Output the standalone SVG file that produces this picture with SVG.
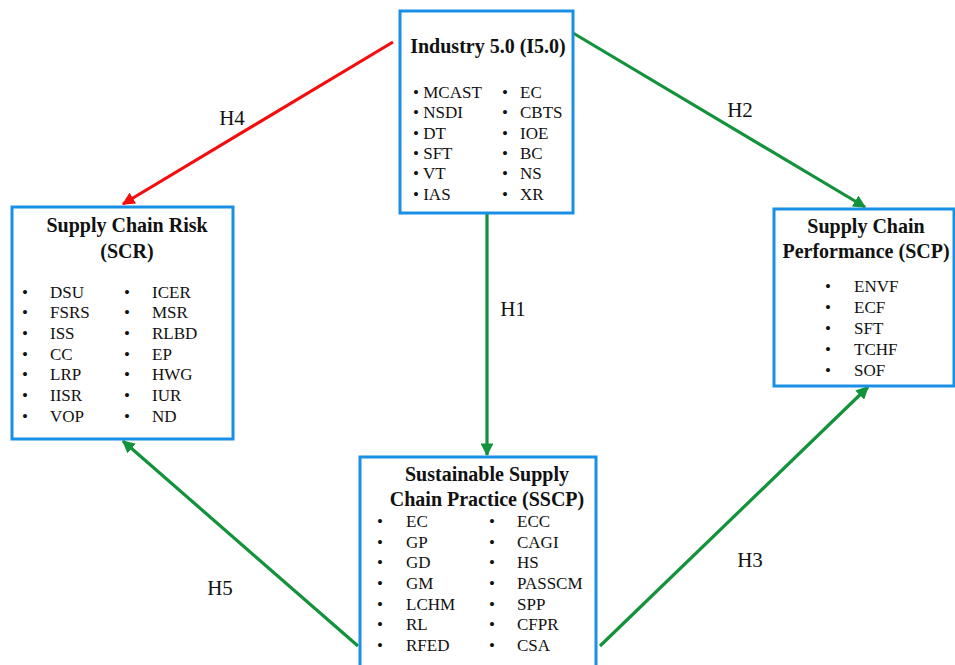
<svg xmlns="http://www.w3.org/2000/svg" width="955" height="665" viewBox="0 0 955 665">
<defs>
<style>
.box{fill:#fff;stroke:#1a8fe6;stroke-width:3}
.t{font-family:"Liberation Serif","Times New Roman",serif;font-weight:bold;font-size:20px;fill:#111;text-anchor:middle}
.i{font-family:"Liberation Serif","Times New Roman",serif;font-size:17px;fill:#111}
.h{font-family:"Liberation Serif","Times New Roman",serif;font-size:21px;fill:#111;text-anchor:middle}
.g{stroke:#12923a;stroke-width:3.2;fill:none;marker-end:url(#ag)}
.r{stroke:#f50d0d;stroke-width:3.2;fill:none;marker-end:url(#ar)}
</style>
<marker id="ag" viewBox="0 0 10 10" refX="9" refY="5" markerWidth="4" markerHeight="4" orient="auto" markerUnits="strokeWidth"><path d="M0,0 L10,5 L0,10 z" fill="#12923a"/></marker>
<marker id="ar" viewBox="0 0 10 10" refX="9" refY="5" markerWidth="4" markerHeight="4" orient="auto" markerUnits="strokeWidth"><path d="M0,0 L10,5 L0,10 z" fill="#f50d0d"/></marker>
</defs>
<rect width="955" height="665" fill="#fff"/>
<g id="connectors">
<line class="r" x1="393" y1="42" x2="123" y2="204"/>
<line class="g" x1="573" y1="33" x2="865" y2="207"/>
<line class="g" x1="487" y1="214" x2="487" y2="455"/>
<line class="g" x1="600" y1="646" x2="868" y2="387"/>
<line class="g" x1="358" y1="646" x2="123" y2="441"/>
<text class="h" x="232" y="125">H4</text>
<text class="h" x="740" y="117">H2</text>
<text class="h" x="513" y="316">H1</text>
<text class="h" x="750" y="567">H3</text>
<text class="h" x="220" y="595">H5</text>
</g>
<g id="i50">
<rect class="box" x="400" y="11" width="173" height="202"/>
<text class="t" x="488" y="53">Industry 5.0 (I5.0)</text>
<g class="i">
<text x="413" y="98">• MCAST</text><text x="413" y="118">• NSDI</text><text x="413" y="139">• DT</text><text x="413" y="159">• SFT</text><text x="413" y="179">• VT</text><text x="413" y="200">• IAS</text>
<text x="502" y="98">•</text><text x="520" y="98">EC</text>
<text x="502" y="118">•</text><text x="520" y="118">CBTS</text>
<text x="502" y="139">•</text><text x="520" y="139">IOE</text>
<text x="502" y="159">•</text><text x="520" y="159">BC</text>
<text x="502" y="179">•</text><text x="520" y="179">NS</text>
<text x="502" y="200">•</text><text x="520" y="200">XR</text>
</g>
</g>
<g id="scr">
<rect class="box" x="12" y="207" width="221" height="232"/>
<text class="t" x="127" y="232">Supply Chain Risk</text>
<text class="t" x="127" y="258">(SCR)</text>
<g class="i">
<text x="22" y="298">•</text><text x="50" y="298">DSU</text>
<text x="22" y="318">•</text><text x="50" y="318">FSRS</text>
<text x="22" y="339">•</text><text x="50" y="339">ISS</text>
<text x="22" y="360">•</text><text x="50" y="360">CC</text>
<text x="22" y="380">•</text><text x="50" y="380">LRP</text>
<text x="22" y="401">•</text><text x="50" y="401">IISR</text>
<text x="22" y="422">•</text><text x="50" y="422">VOP</text>
<text x="124" y="298">•</text><text x="152" y="298">ICER</text>
<text x="124" y="318">•</text><text x="152" y="318">MSR</text>
<text x="124" y="339">•</text><text x="152" y="339">RLBD</text>
<text x="124" y="360">•</text><text x="152" y="360">EP</text>
<text x="124" y="380">•</text><text x="152" y="380">HWG</text>
<text x="124" y="401">•</text><text x="152" y="401">IUR</text>
<text x="124" y="422">•</text><text x="152" y="422">ND</text>
</g>
</g>
<g id="scp">
<rect class="box" x="774" y="209" width="180" height="177"/>
<text class="t" x="866" y="233">Supply Chain</text>
<text class="t" x="866" y="258">Performance (SCP)</text>
<g class="i">
<text x="825" y="292">•</text><text x="854" y="292">ENVF</text>
<text x="825" y="313">•</text><text x="854" y="313">ECF</text>
<text x="825" y="334">•</text><text x="854" y="334">SFT</text>
<text x="825" y="355">•</text><text x="854" y="355">TCHF</text>
<text x="825" y="376">•</text><text x="854" y="376">SOF</text>
</g>
</g>
<g id="sscp">
<rect class="box" x="360" y="457" width="236" height="220"/>
<text class="t" x="487" y="481">Sustainable Supply</text>
<text class="t" x="487" y="506">Chain Practice (SSCP)</text>
<g class="i">
<text x="377" y="527">•</text><text x="406" y="527">EC</text>
<text x="377" y="548">•</text><text x="406" y="548">GP</text>
<text x="377" y="568">•</text><text x="406" y="568">GD</text>
<text x="377" y="589">•</text><text x="406" y="589">GM</text>
<text x="377" y="610">•</text><text x="406" y="610">LCHM</text>
<text x="377" y="630">•</text><text x="406" y="630">RL</text>
<text x="377" y="651">•</text><text x="406" y="651">RFED</text>
<text x="489" y="527">•</text><text x="517" y="527">ECC</text>
<text x="489" y="548">•</text><text x="517" y="548">CAGI</text>
<text x="489" y="568">•</text><text x="517" y="568">HS</text>
<text x="489" y="589">•</text><text x="517" y="589">PASSCM</text>
<text x="489" y="610">•</text><text x="517" y="610">SPP</text>
<text x="489" y="630">•</text><text x="517" y="630">CFPR</text>
<text x="489" y="651">•</text><text x="517" y="651">CSA</text>
</g>
</g>
</svg>
